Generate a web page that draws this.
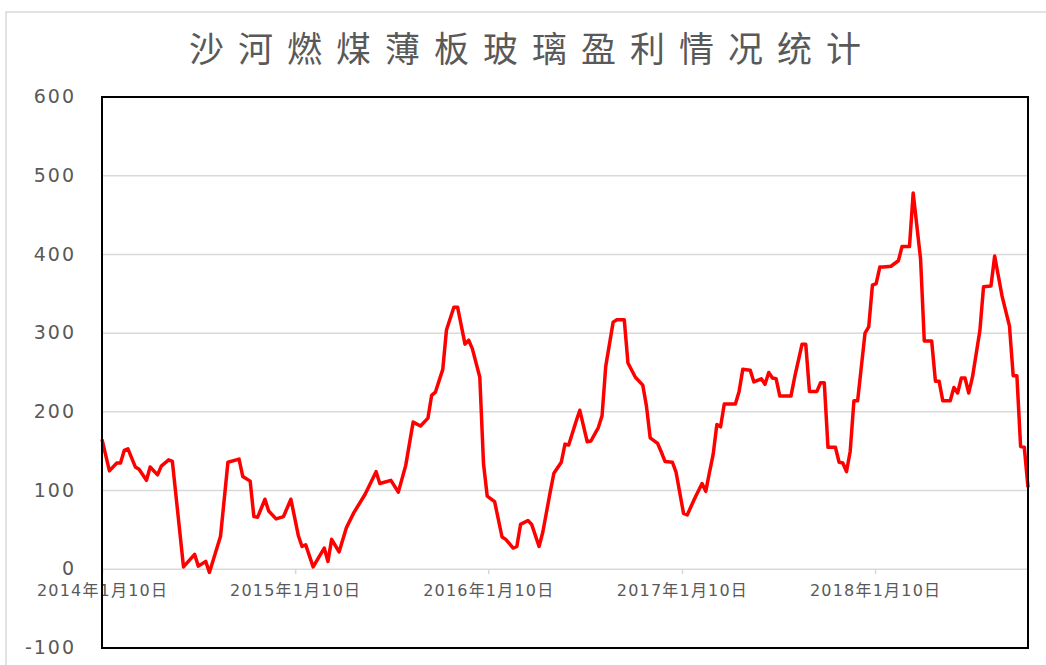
<!DOCTYPE html>
<html>
<head>
<meta charset="utf-8">
<script src="https://cdn.jsdelivr.net/npm/d3@7"></script>
<style>
  body { margin: 0; background: #fff; }
</style>
</head>
<body>
<script>
// Chart data: weeks after 2014-01-10 and profit (yuan/ton)
let startDate = "2014-01-10";
let endDate = "2018-10-26";
let weekIndex = [
  0, 2, 4, 5, 6, 7, 9, 10, 12, 13, 15, 16, 18, 19, 22, 25, 26, 28, 29, 32,
  34, 37, 38, 40, 41, 42, 44, 45, 47, 49, 51, 53, 54, 55, 57, 60, 61, 62, 64, 66,
  68, 71, 74, 75, 78, 80, 82, 84, 86, 88, 89, 90, 92, 93, 95, 96, 98, 99, 100, 102,
  103, 104, 106, 108, 109, 111, 112, 113, 115, 116, 118, 119, 121, 122, 124, 125, 126, 128, 129, 131,
  132, 134, 135, 136, 138, 139, 141, 142, 144, 146, 147, 148, 150, 151, 152, 154, 155, 157, 158, 160,
  162, 163, 164, 165, 166, 167, 168, 171, 172, 173, 175, 176, 178, 179, 180, 181, 182, 183, 186, 187,
  189, 190, 191, 193, 194, 195, 196, 198, 199, 200, 201, 202, 203, 204, 206, 207, 208, 209, 210, 211,
  213, 215, 216, 218, 219, 221, 222, 224, 225, 226, 227, 229, 230, 231, 232, 233, 234, 235, 237, 238,
  240, 241, 243, 245, 246, 247, 248, 249, 250,
];
let profit = [
  165, 125, 135, 135, 151, 153, 130, 127, 113, 130, 120, 131, 139, 137, 3, 19, 4, 10, -4, 42,
  136, 140, 118, 112, 67, 66, 89, 74, 64, 67, 89, 43, 29, 31, 3, 27, 10, 38, 22, 53,
  72, 95, 124, 109, 113, 98, 132, 187, 182, 192, 221, 225, 254, 304, 333, 333, 286, 291, 280, 244,
  134, 93, 86, 41, 38, 27, 29, 57, 62, 57, 29, 47, 98, 122, 136, 159, 158, 188, 202, 162,
  163, 180, 195, 258, 314, 317, 317, 262, 244, 234, 207, 167, 160, 149, 137, 136, 123, 71, 69, 90,
  109, 99, 123, 146, 184, 181, 210, 210, 226, 254, 253, 238, 242, 235, 250, 243, 242, 220, 220, 244,
  286, 286, 226, 226, 237, 237, 155, 155, 136, 135, 124, 150, 214, 214, 300, 308, 361, 363, 384, 384,
  385, 392, 410, 410, 478, 394, 290, 290, 239, 239, 214, 214, 231, 224, 243, 243, 224, 244, 303, 359,
  360, 398, 347, 309, 246, 246, 156, 155, 104,
];
let yTicks = [-100, 0, 100, 200, 300, 400, 500, 600];
let xTickYears = [2014, 2015, 2016, 2017, 2018];
let title = "沙河燃煤薄板玻璃盈利情况统计";

// Define dimensions
let width = 1046;
let height = 665;

let margin = {
  top: 97,
  bottom: 17,
  left: 102,
  right: 18,
};

let parseDate = d3.timeParse("%Y-%m-%d");
let start = parseDate(startDate);

let data = weekIndex.map((w, i) => ({
  date: d3.timeDay.offset(start, w * 7),
  value: profit[i],
}));

// Create SVG
let svg = d3
  .select("body")
  .append("svg")
  .attr("width", width)
  .attr("height", height)
  .style("background", "#ffffff");

// Outer chart frame
svg
  .append("rect")
  .attr("x", 6)
  .attr("y", 12)
  .attr("width", width + 20)
  .attr("height", height + 20)
  .attr("fill", "none")
  .attr("stroke", "#d9d9d9")
  .attr("stroke-width", 1.5);

// Define the scales
let xScale = d3
  .scaleTime()
  .domain([start, parseDate(endDate)])
  .range([margin.left, width - margin.right]);

let yScale = d3
  .scaleLinear()
  .domain([-100, 600])
  .range([height - margin.bottom, margin.top]);

// Grid lines
svg
  .append("g")
  .selectAll("line")
  .data(yTicks.filter((t) => t > -100 && t < 600))
  .join("line")
  .attr("x1", margin.left)
  .attr("x2", width - margin.right)
  .attr("y1", (d) => yScale(d))
  .attr("y2", (d) => yScale(d))
  .attr("stroke", "#d9d9d9")
  .attr("stroke-width", 1.5);

// Y axis labels
let yAxis = svg
  .append("g")
  .attr("transform", `translate(${margin.left}, 0)`)
  .call(
    d3
      .axisLeft(yScale)
      .tickValues(yTicks)
      .tickFormat((d) => String(d))
      .tickSize(0)
      .tickPadding(26),
  );

yAxis.select(".domain").remove();
yAxis
  .selectAll("text")
  .attr("dy", "0.3em")
  .style("font-family", "'DejaVu Sans', sans-serif")
  .style("font-size", "19px")
  .style("letter-spacing", "2px")
  .attr("fill", "#595959");

// X axis on the zero line
let xAxis = svg
  .append("g")
  .attr("transform", `translate(0, ${yScale(0)})`)
  .call(
    d3
      .axisBottom(xScale)
      .tickValues(xTickYears.map((y) => parseDate(`${y}-01-10`)))
      .tickFormat((d) => `${d.getFullYear()}年1月10日`)
      .tickSize(5)
      .tickPadding(10),
  );

xAxis.select(".domain").remove();
xAxis.selectAll("line").attr("stroke", "#d9d9d9").attr("stroke-width", 1.5);
xAxis
  .selectAll("text")
  .style("font-family", "'DejaVu Sans', 'Noto Sans CJK SC', sans-serif")
  .style("font-size", "16px")
  .style("letter-spacing", "1.2px")
  .attr("fill", "#595959");

// Draw the profit line
let line = d3
  .line()
  .x((d) => xScale(d.date))
  .y((d) => yScale(d.value));

svg
  .append("path")
  .datum(data)
  .attr("d", line)
  .attr("fill", "none")
  .attr("stroke", "#ff0000")
  .attr("stroke-width", 3.5)
  .attr("stroke-linejoin", "round");

// Plot area border
svg
  .append("rect")
  .attr("x", margin.left)
  .attr("y", margin.top)
  .attr("width", width - margin.left - margin.right)
  .attr("height", height - margin.top - margin.bottom)
  .attr("fill", "none")
  .attr("stroke", "black")
  .attr("stroke-width", 2);

// Draw the title
svg
  .append("text")
  .attr("x", 532)
  .attr("y", 62)
  .text(title)
  .style("text-anchor", "middle")
  .style("font-family", "'Noto Sans CJK SC', sans-serif")
  .style("font-size", "35px")
  .style("letter-spacing", "14px")
  .attr("fill", "#595959");
</script>
</body>
</html>
